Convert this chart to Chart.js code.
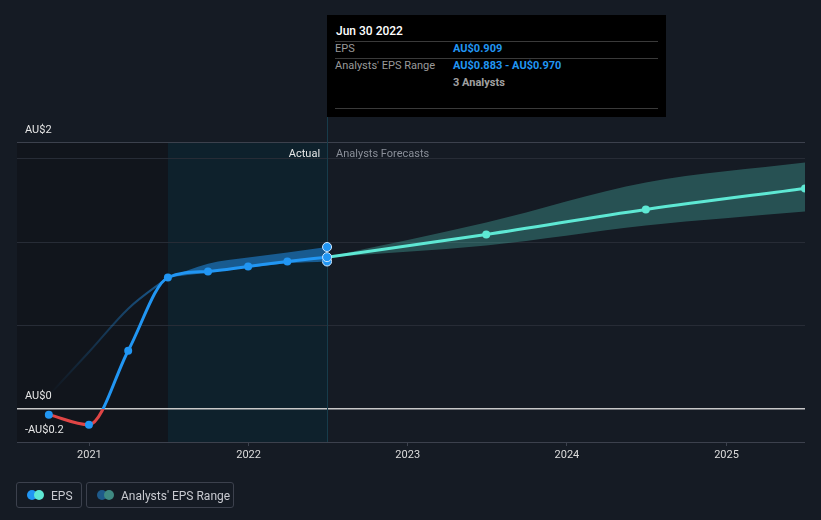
<!DOCTYPE html>
<html>
<head>
<meta charset="utf-8">
<script src="https://cdn.jsdelivr.net/npm/chart.js@4/dist/chart.umd.min.js"></script>
<style>
  html, body { margin:0; padding:0; background:#151b24; }
  #wrap { position:relative; width:821px; height:520px; overflow:hidden; font-family: Roboto, "Noto Sans", sans-serif; }
  canvas { position:absolute; left:0; top:0; }
  .abs { position:absolute; white-space:nowrap; line-height:1; }
  #tip { position:absolute; left:327px; top:15px; width:339px; height:102px; background:#000; }
  .sep { position:absolute; left:8px; width:323px; height:1px; background:#3a3a3a; }
  .lg { position:absolute; top:482px; height:26px; border:1px solid #3c414d; border-radius:3px; box-sizing:border-box; }
  .dot { position:absolute; top:7px; width:10px; height:10px; border-radius:50%; }
  .lgt { position:absolute; top:7px; font-size:12px; color:#c8cad0; line-height:12px; }
</style>
</head>
<body>
<div id="wrap">
  <canvas id="c" width="821" height="520"></canvas>
  <div id="tip">
    <div class="abs" style="left:9px;top:10px;font-size:12px;color:#fff;font-weight:500;">Jun 30 2022</div>
    <div class="sep" style="top:26px"></div>
    <div class="abs" style="left:8px;top:28px;font-size:11px;color:#9a9a9a;">EPS</div>
    <div class="abs" style="left:126px;top:28px;font-size:11px;color:#2196f3;font-weight:700;">AU$0.909</div>
    <div class="sep" style="top:43px"></div>
    <div class="abs" style="left:8px;top:45px;font-size:11px;color:#9a9a9a;">Analysts' EPS Range</div>
    <div class="abs" style="left:126px;top:45px;font-size:11px;color:#2196f3;font-weight:700;">AU$0.883 - AU$0.970</div>
    <div class="abs" style="left:126px;top:62px;font-size:11px;color:#a0a0a0;font-weight:700;">3 Analysts</div>
    <div class="sep" style="top:93px"></div>
  </div>
  <div class="lg" style="left:16px;width:66px;">
    <div class="dot" style="left:10px;background:#2196f3"></div>
    <div class="dot" style="left:17px;background:#5ee8d4"></div>
    <div class="lgt" style="left:34px">EPS</div>
  </div>
  <div class="lg" style="left:86px;width:148px;">
    <div class="dot" style="left:10px;background:#1e5a8a"></div>
    <div class="dot" style="left:17px;background:#3f8a82"></div>
    <div class="lgt" style="left:34px">Analysts' EPS Range</div>
  </div>
</div>
<script>
// ---- data ----
const actualDates = ['2020-09-30','2020-12-31','2021-03-31','2021-06-30','2021-09-30','2021-12-31','2022-03-31','2022-06-30'];
const actualEps   = [-0.036, -0.096, 0.348, 0.787, 0.823, 0.853, 0.883, 0.909];

const pastRangeDates = ['2021-06-30','2021-09-30','2021-12-31','2022-03-31','2022-06-30'];
const pastRangeHigh  = [0.787, 0.870, 0.907, 0.937, 0.970];
const pastRangeLow   = [0.787, 0.815, 0.845, 0.872, 0.883];

const earlyRangeDates = ['2020-09-30','2020-12-31','2021-03-31','2021-06-30'];
const earlyRangeHigh  = [0.08, 0.34, 0.60, 0.787];

const forecastDates = ['2022-06-30','2023-06-30','2024-06-30','2025-06-30'];
const forecastEps   = [0.909, 1.045, 1.195, 1.321];
const forecastHigh  = [0.909, 1.117, 1.357, 1.477];
const forecastLow   = [0.909, 0.979, 1.099, 1.183];

const yearTicks = [2021, 2022, 2023, 2024, 2025];
const yTickValues = [-0.2, 0, 0.5, 1, 1.5, 1.6];
const yLabels = [{v: 1.6, t: 'AU$2'}, {v: 0, t: 'AU$0'}, {v: -0.2, t: '-AU$0.2'}];
const xMinDate = '2020-07-19';
const xMaxDate = '2025-06-30';
const actualStart = '2021-06-30';
const actualEnd = '2022-06-30';

// ---- helpers ----
const T = d => Date.parse(d);
const pts = (ds, vs) => ds.map((d, i) => ({x: T(d), y: vs[i]}));
const BLUE = '#2196f3', RED = '#e04545', TEAL = '#5ee8d4';

const bgPlugin = {
  id: 'bg',
  beforeDraw(chart) {
    const {ctx, chartArea: a, scales: {x}} = chart;
    ctx.save();
    ctx.fillStyle = '#151b24';
    ctx.fillRect(0, 0, chart.width, chart.height);
    const xs = x.getPixelForValue(T(actualStart));
    const xe = x.getPixelForValue(T(actualEnd));
    ctx.fillStyle = '#11151c';
    ctx.fillRect(a.left, a.top, xs - a.left, a.bottom - a.top);
    ctx.fillStyle = '#0e212c';
    ctx.fillRect(xs, a.top, xe - xs, a.bottom - a.top);
    ctx.restore();
  },
  afterDraw(chart) {
    const {ctx, chartArea: a, scales: {x, y}} = chart;
    ctx.save();
    ctx.font = '11px Roboto, "Noto Sans", sans-serif';
    ctx.textBaseline = 'middle';
    ctx.fillStyle = '#e6e6e6';
    ctx.textAlign = 'left';
    yLabels.forEach(l => ctx.fillText(l.t, a.left + 8, y.getPixelForValue(l.v) - 12));
    const xe = x.getPixelForValue(T(actualEnd));
    ctx.textAlign = 'right';
    ctx.fillText('Actual', xe - 7, a.top + 12);
    ctx.textAlign = 'left';
    ctx.fillStyle = '#8a8f99';
    ctx.fillText('Analysts Forecasts', xe + 9, a.top + 12);
    ctx.restore();
  },
  beforeDatasetsDraw(chart) {
    const {ctx, chartArea: a, scales: {x}} = chart;
    const xe = Math.round(x.getPixelForValue(T(actualEnd))) + 0.5;
    ctx.save();
    ctx.strokeStyle = '#173c4b';
    ctx.lineWidth = 1;
    ctx.beginPath();
    ctx.moveTo(xe, 15);
    ctx.lineTo(xe, a.bottom);
    ctx.stroke();
    ctx.restore();
  }
};

function epsGradient(context) {
  const chart = context.chart;
  const {ctx, chartArea, scales} = chart;
  if (!chartArea) return BLUE;
  const y0 = scales.y.getPixelForValue(0);
  const f = Math.min(1, Math.max(0, (y0 - chartArea.top) / (chartArea.bottom - chartArea.top)));
  const g = ctx.createLinearGradient(0, chartArea.top, 0, chartArea.bottom);
  g.addColorStop(0, BLUE); g.addColorStop(f, BLUE);
  g.addColorStop(f, RED); g.addColorStop(1, RED);
  return g;
}
function fadeGradient(context) {
  const chart = context.chart;
  const {ctx, chartArea, scales} = chart;
  if (!chartArea) return 'rgba(33,150,243,0.4)';
  const x0 = scales.x.getPixelForValue(T(earlyRangeDates[0]));
  const x1 = scales.x.getPixelForValue(T(earlyRangeDates[earlyRangeDates.length - 1]));
  const g = ctx.createLinearGradient(x0, 0, x1, 0);
  g.addColorStop(0, 'rgba(33,150,243,0)');
  g.addColorStop(1, 'rgba(33,150,243,0.55)');
  return g;
}

const lastOnly = (n, r) => Array.from({length: n}, (_, i) => i === n - 1 ? r : 0);

new Chart(document.getElementById('c'), {
  type: 'line',
  data: {
    datasets: [
      { // 0 actual EPS
        data: pts(actualDates, actualEps),
        borderColor: epsGradient, borderWidth: 3,
        pointBackgroundColor: BLUE,
        pointBorderColor: actualEps.map((v, i) => i === actualEps.length - 1 ? '#cfe8ff' : BLUE),
        pointBorderWidth: actualEps.map((v, i) => i === actualEps.length - 1 ? 1 : 0),
        pointRadius: actualEps.map((v, i) => i === actualEps.length - 1 ? 4.5 : 4),
        cubicInterpolationMode: 'monotone', fill: false
      },
      { // 1 past range high
        data: pts(pastRangeDates, pastRangeHigh),
        borderWidth: 0, borderColor: 'rgba(0,0,0,0)',
        backgroundColor: 'rgba(33,150,243,0.5)', fill: '+1',
        pointRadius: lastOnly(pastRangeHigh.length, 4.5), pointBackgroundColor: BLUE,
        pointBorderColor: '#cfe8ff', pointBorderWidth: 1,
        cubicInterpolationMode: 'monotone'
      },
      { // 2 past range low
        data: pts(pastRangeDates, pastRangeLow),
        borderWidth: 0, borderColor: 'rgba(0,0,0,0)', fill: false,
        pointRadius: lastOnly(pastRangeLow.length, 4.5), pointBackgroundColor: BLUE,
        pointBorderColor: '#cfe8ff', pointBorderWidth: 1,
        cubicInterpolationMode: 'monotone'
      },
      { // 3 forecast EPS
        data: pts(forecastDates, forecastEps),
        borderColor: TEAL, borderWidth: 3, fill: false,
        pointBackgroundColor: TEAL, pointBorderWidth: 0,
        pointRadius: forecastEps.map((v, i) => i === 0 ? 0 : 4),
        cubicInterpolationMode: 'monotone'
      },
      { // 4 forecast high
        data: pts(forecastDates, forecastHigh),
        borderWidth: 0, borderColor: 'rgba(0,0,0,0)', pointRadius: 0,
        backgroundColor: 'rgba(88,230,210,0.27)', fill: '+1',
        cubicInterpolationMode: 'monotone'
      },
      { // 5 forecast low
        data: pts(forecastDates, forecastLow),
        borderWidth: 0, borderColor: 'rgba(0,0,0,0)', pointRadius: 0, fill: false,
        cubicInterpolationMode: 'monotone'
      },
      { // 6 early faint range edge
        data: pts(earlyRangeDates, earlyRangeHigh),
        borderColor: fadeGradient, borderWidth: 2, pointRadius: 0, fill: false,
        cubicInterpolationMode: 'monotone'
      }
    ]
  },
  options: {
    responsive: false,
    animation: false,
    devicePixelRatio: 1,
    layout: { padding: { left: 17, right: 16, top: 142, bottom: 58 } },
    plugins: { legend: { display: false }, tooltip: { enabled: false } },
    events: [],
    scales: {
      x: {
        type: 'linear',
        min: T(xMinDate), max: T(xMaxDate),
        afterBuildTicks: s => { s.ticks = yearTicks.map(yr => ({value: Date.UTC(yr, 0, 1)})); },
        afterFit: s => { s.height = 20; },
        ticks: {
          autoSkip: false, maxRotation: 0, padding: 3,
          color: '#dcdcdc', font: { family: 'Roboto', size: 11 },
          callback: v => String(new Date(v).getUTCFullYear())
        },
        grid: { drawOnChartArea: false, drawTicks: true, tickLength: 4, color: '#3c414d' },
        border: { display: false }
      },
      y: {
        min: -0.2, max: 1.6,
        afterBuildTicks: s => { s.ticks = yTickValues.map(v => ({value: v})); },
        afterFit: s => { s.width = 0; },
        ticks: { display: false },
        grid: {
          drawTicks: false,
          color: c => {
            const v = c.tick && c.tick.value;
            if (v === 0) return '#c8c8c8';
            if (v === -0.2 || v === 1.6) return '#3c414d';
            return '#272c36';
          },
          lineWidth: c => (c.tick && c.tick.value === 0) ? 1.5 : 1
        },
        border: { display: false }
      }
    }
  },
  plugins: [bgPlugin]
});
</script>
</body>
</html>
